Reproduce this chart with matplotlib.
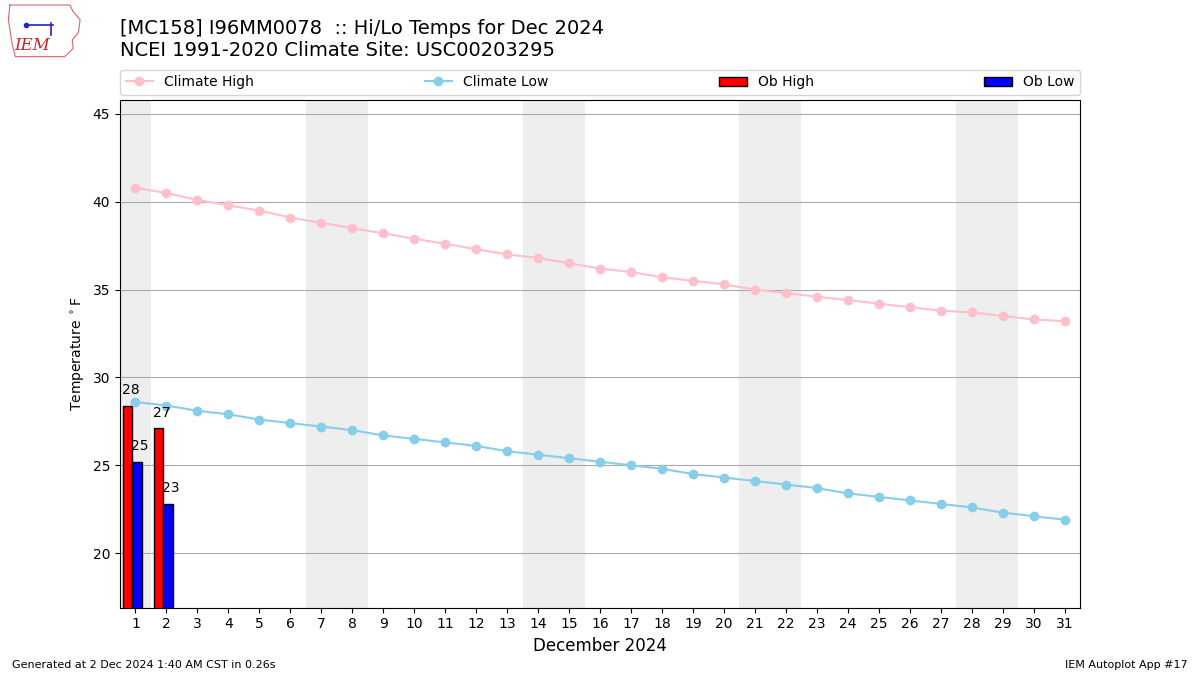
import matplotlib
matplotlib.use("Agg")
import matplotlib.pyplot as plt
import numpy as np

# Dec 2024 data
days = np.arange(1, 32)
climate_high = [40.8, 40.5, 40.1, 39.8, 39.5, 39.1, 38.8, 38.5, 38.2, 37.9,
                37.6, 37.3, 37.0, 36.8, 36.5, 36.2, 36.0, 35.7, 35.5, 35.3,
                35.0, 34.8, 34.6, 34.4, 34.2, 34.0, 33.8, 33.7, 33.5, 33.3, 33.2]
climate_low = [28.6, 28.4, 28.1, 27.9, 27.6, 27.4, 27.2, 27.0, 26.7, 26.5,
               26.3, 26.1, 25.8, 25.6, 25.4, 25.2, 25.0, 24.8, 24.5, 24.3,
               24.1, 23.9, 23.7, 23.4, 23.2, 23.0, 22.8, 22.6, 22.3, 22.1, 21.9]
ob_days = np.array([1, 2])
ob_high = [28.4, 27.1]
ob_low = [25.2, 22.8]
weekends = [1, 7, 8, 14, 15, 21, 22, 28, 29]

fig = plt.figure(figsize=(12, 6.75), dpi=100)
ax = fig.add_axes([0.1, 0.1, 0.8, 0.752])

# weekend shading
for d in weekends:
    ax.axvspan(d - 0.5, d + 0.5, color="#eeeeee", zorder=0, lw=0)

ax.plot(days, climate_high, "o-", color="pink", label="Climate High", zorder=3)
ax.plot(days, climate_low, "o-", color="skyblue", label="Climate Low", zorder=3)

ax.bar(ob_days - 0.4, ob_high, width=0.3, align="edge", color="r",
       edgecolor="k", label="Ob High", zorder=2)
ax.bar(ob_days - 0.1, ob_low, width=0.3, align="edge", color="b",
       edgecolor="k", label="Ob Low", zorder=2)
for d, h, l in zip(ob_days, ob_high, ob_low):
    ax.text(d - 0.15, h + 0.5, "%.0f" % h, ha="center", va="bottom", fontsize=10,
            zorder=4, bbox=dict(color="white", pad=0, alpha=0))
    ax.text(d + 0.15, l + 0.5, "%.0f" % l, ha="center", va="bottom", fontsize=10,
            zorder=4)

ax.set_xlim(0.5, 31.5)
ax.set_ylim(min(climate_low) - 5, max(climate_high) + 5)
ax.set_xticks(days)
ax.set_yticks(np.arange(20, 46, 5))
ax.yaxis.grid(True, color="#aaaaaa", lw=0.8)
ax.set_axisbelow(True)
ax.set_xlabel("December 2024", fontsize=12)
ax.set_ylabel(r"Temperature $^\circ$F")

ax.legend(loc="lower left", bbox_to_anchor=(0, 1.01, 1, 0.05), mode="expand",
          ncol=4, borderaxespad=0)

fig.text(0.1, 0.972, "[MC158] I96MM0078  :: Hi/Lo Temps for Dec 2024\n"
         "NCEI 1991-2020 Climate Site: USC00203295", fontsize=14, va="top")
fig.text(0.01, 0.01, "Generated at 2 Dec 2024 1:40 AM CST in 0.26s", fontsize=8)
fig.text(0.99, 0.01, "IEM Autoplot App #17", fontsize=8, ha="right")

# rough IEM logo
lax = fig.add_axes([0.005, 0.91, 0.065, 0.085])
lax.set_xlim(0, 10)
lax.set_ylim(0, 7)
lax.axis("off")
outline_x = [0.5, 8.2, 8.6, 9.5, 9.3, 8.5, 8.6, 7.5, 1.2, 0.8, 0.3, 0.5]
outline_y = [6.8, 6.8, 6.0, 5.0, 3.5, 2.5, 1.5, 0.5, 0.5, 2.0, 5.0, 6.8]
lax.plot(outline_x, outline_y, color="#dd6666", lw=0.8)
lax.plot([2.5, 6.0], [4.4, 4.4], color="#2222cc", lw=1.2)
lax.plot([2.5], [4.4], "o", color="#2222cc", ms=3)
lax.plot([5.8, 5.8], [3.2, 4.6], color="#2222cc", lw=1.2)
lax.text(1.0, 1.3, "IEM", color="#cc2222", fontsize=12, family="serif",
         style="italic")

fig.savefig("out.png", dpi=100)
